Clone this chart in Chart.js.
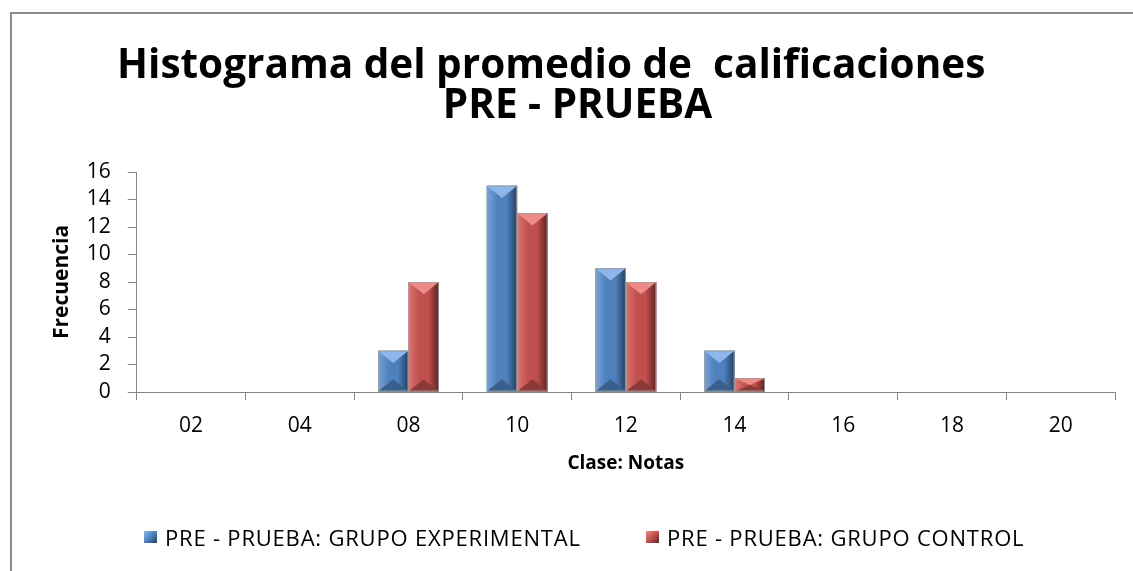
<!DOCTYPE html>
<html>
<head>
<meta charset="utf-8">
<script src="https://cdn.jsdelivr.net/npm/chart.js@4.4.1/dist/chart.umd.min.js"></script>
<style>
  html, body { margin: 0; padding: 0; background: #fff; }
  #wrap { position: relative; width: 1133px; height: 571px; overflow: hidden; }
  #frame { position: absolute; left: 10px; top: 12px; right: -4px; bottom: -4px;
           border-left: 2px solid #8c8c8c; border-top: 2px solid #8c8c8c; }
  #c { position: absolute; left: 0; top: 0; }
  .leg { position: absolute; top: 525px; font-family: "Open Sans", sans-serif;
         font-size: 22px; letter-spacing: 0.8px; color: #000; line-height: 24px; white-space: pre; }
  .sw { position: absolute; width: 13px; height: 12px; }
</style>
</head>
<body>
<div id="wrap">
  <div id="frame"></div>
  <canvas id="c" width="1133" height="571" style="width:1133px;height:571px"></canvas>
  <div id="legend"></div>
</div>
<script>
// ---- data ----
const categories = ['02', '04', '08', '10', '12', '14', '16', '18', '20'];
const experimental = [0, 0, 3, 15, 9, 3, 0, 0, 0];
const control = [0, 0, 8, 13, 8, 1, 0, 0, 0];
const seriesNames = ['PRE - PRUEBA: GRUPO EXPERIMENTAL', 'PRE - PRUEBA: GRUPO CONTROL'];
const titleLines = ['Histograma del promedio de  calificaciones     ', 'PRE - PRUEBA'];
const xTitle = 'Clase: Notas';
const yTitle = 'Frecuencia';

// ---- styles ----
const palette = [
  { base: '#4F81BD', light: '#79a3d9', dark: '#243f63', top: '#8fb6ea', bottom: '#3a5f8c' },
  { base: '#C0504D', light: '#dc7471', dark: '#5e2221', top: '#ec8b88', bottom: '#8c3a38' }
];
const FONT = '"Open Sans", sans-serif';

// HTML legend (real text)
const legendPos = [{ sw: 144, tx: 165 }, { sw: 646, tx: 667 }];
const legendEl = document.getElementById('legend');
seriesNames.forEach((name, i) => {
  const sw = document.createElement('div');
  sw.className = 'sw';
  sw.style.left = legendPos[i].sw + 'px';
  sw.style.top = '531px';
  sw.style.background = `linear-gradient(135deg, ${palette[i].top}, ${palette[i].base} 50%, ${palette[i].dark})`;
  legendEl.appendChild(sw);
  const t = document.createElement('div');
  t.className = 'leg';
  t.style.left = legendPos[i].tx + 'px';
  t.textContent = name;
  legendEl.appendChild(t);
});

// bevel plugin: shades each bar element drawn by the library
const bevelPlugin = {
  id: 'bevel',
  afterDatasetsDraw(chart) {
    const ctx = chart.ctx;
    chart.data.datasets.forEach((ds, di) => {
      const meta = chart.getDatasetMeta(di);
      const pal = palette[di];
      meta.data.forEach((bar) => {
        const p = bar.getProps(['x', 'y', 'base', 'width'], true);
        const h = p.base - p.y;
        if (h <= 0.5) return;
        const l = p.x - p.width / 2, r = p.x + p.width / 2, t = p.y, b = p.base;
        ctx.save();
        const g = ctx.createLinearGradient(l, 0, r, 0);
        g.addColorStop(0, pal.light);
        g.addColorStop(0.35, pal.base);
        g.addColorStop(0.65, pal.base);
        g.addColorStop(1, pal.dark);
        ctx.fillStyle = g;
        ctx.fillRect(l, t, p.width, h);
        const d = Math.min(p.width * 0.4, h / 2);
        ctx.beginPath();
        ctx.moveTo(l, t); ctx.lineTo(r, t); ctx.lineTo(p.x, t + d); ctx.closePath();
        ctx.fillStyle = pal.top;
        ctx.fill();
        ctx.beginPath();
        ctx.moveTo(l, b); ctx.lineTo(r, b); ctx.lineTo(p.x, b - d); ctx.closePath();
        ctx.fillStyle = pal.bottom;
        ctx.fill();
        ctx.strokeStyle = 'rgba(160,160,160,0.9)';
        ctx.lineWidth = 1;
        ctx.strokeRect(l + 0.5, t + 0.5, p.width - 1, h - 1);
        ctx.restore();
      });
    });
  }
};

new Chart(document.getElementById('c'), {
  type: 'bar',
  data: {
    labels: categories,
    datasets: [
      { label: seriesNames[0], data: experimental, backgroundColor: palette[0].base,
        borderWidth: 0, categoryPercentage: 0.56, barPercentage: 1 },
      { label: seriesNames[1], data: control, backgroundColor: palette[1].base,
        borderWidth: 0, categoryPercentage: 0.56, barPercentage: 1 }
    ]
  },
  options: {
    responsive: false,
    devicePixelRatio: 1,
    animation: false,
    layout: { padding: { left: 40, right: 18, top: 12, bottom: 97.5 } },
    plugins: {
      legend: { display: false },
      tooltip: { enabled: false },
      title: {
        display: true,
        text: titleLines,
        color: '#000',
        font: { family: FONT, size: 40.5, weight: 'bold', lineHeight: 1.0 },
        padding: { top: 34, bottom: 45 }
      }
    },
    scales: {
      x: {
        grid: { display: true, drawOnChartArea: false, drawTicks: true, tickLength: 8,
                color: '#868686', offset: true },
        border: { display: true, color: '#868686', width: 1 },
        ticks: { color: '#000', font: { family: FONT, size: 21, lineHeight: 1 }, padding: 16,
                 maxRotation: 0 },
        title: { display: true, text: xTitle, color: '#000',
                 font: { family: FONT, size: 19, weight: 'bold', lineHeight: 1 },
                 padding: { top: 1.5, bottom: 0 } }
      },
      y: {
        min: 0, max: 16,
        grid: { display: true, drawOnChartArea: false, drawTicks: true, tickLength: 9,
                color: '#868686' },
        border: { display: true, color: '#868686', width: 1 },
        ticks: { stepSize: 2, color: '#000', font: { family: FONT, size: 21, lineHeight: 1 },
                 padding: 17 },
        title: { display: true, text: yTitle, color: '#000',
                 font: { family: FONT, size: 21, weight: 'bold', lineHeight: 1.2 },
                 padding: { top: 9.5, bottom: -5 } }
      }
    }
  },
  plugins: [bevelPlugin]
});
</script>
</body>
</html>
